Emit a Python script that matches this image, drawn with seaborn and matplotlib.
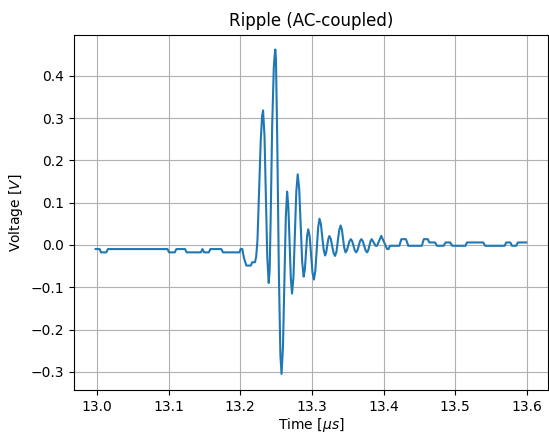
import matplotlib
matplotlib.use("Agg")
import matplotlib.pyplot as plt
import seaborn as sns
import pandas as pd

time_us = [
    12.998, 13.0037, 13.0055, 13.0129, 13.0152, 13.0983, 13.1006, 13.1085,
    13.1108, 13.1228, 13.1251, 13.1449, 13.1472, 13.1495, 13.1560, 13.1583,
    13.1735, 13.1758, 13.1989, 13.2005, 13.2028, 13.2050, 13.2085, 13.2148,
    13.2165, 13.2205, 13.2222, 13.2240, 13.2263, 13.2286, 13.2305, 13.2318,
    13.2338, 13.2358, 13.2377, 13.2397, 13.2410, 13.2424, 13.2445, 13.2468,
    13.2480, 13.2489, 13.2498, 13.2516, 13.2539, 13.2560, 13.2576, 13.2596,
    13.2615, 13.2635, 13.2654, 13.2671, 13.2689, 13.2706, 13.2723, 13.2743,
    13.2763, 13.2782, 13.2802, 13.2823, 13.2844, 13.2864, 13.2885, 13.2901,
    13.2917, 13.2933, 13.2949, 13.2969, 13.2989, 13.3008, 13.3028, 13.3048,
    13.3067, 13.3087, 13.3106, 13.3126, 13.3145, 13.3165, 13.3184, 13.3199,
    13.3214, 13.3229, 13.3244, 13.3264, 13.3283, 13.3303, 13.3323, 13.3343,
    13.3362, 13.3382, 13.3401, 13.3418, 13.3435, 13.3453, 13.3470, 13.3488,
    13.3507, 13.3525, 13.3544, 13.3562, 13.3581, 13.3599, 13.3618, 13.3636,
    13.3654, 13.3672, 13.3690, 13.3710, 13.3730, 13.3750, 13.3770, 13.3786,
    13.3802, 13.3819, 13.3835, 13.3862, 13.3890, 13.3910, 13.3939, 13.3968,
    13.4010, 13.4050, 13.4070, 13.4090, 13.4221, 13.4249, 13.4313, 13.4346,
    13.4535, 13.4562, 13.4618, 13.4640, 13.4719, 13.4747, 13.4839, 13.4866,
    13.4931, 13.4959, 13.5143, 13.5166, 13.5392, 13.5419, 13.5691, 13.5714,
    13.5770, 13.5793, 13.5853, 13.5876, 13.5990,
]
voltage_v = [
    -0.0098, -0.0098, -0.0176, -0.0176, -0.0098, -0.0098, -0.0176, -0.0176,
    -0.0098, -0.0098, -0.0176, -0.0176, -0.0098, -0.0176, -0.0176, -0.0098,
    -0.0098, -0.0176, -0.0176, -0.0098, -0.0098, -0.030, -0.0488, -0.0488,
    -0.041, -0.041, -0.028, 0.011, 0.130, 0.249, 0.305, 0.318,
    0.258, 0.114, -0.030, -0.090, -0.060, 0.060, 0.280, 0.420,
    0.448, 0.462, 0.440, 0.248, -0.068, -0.260, -0.305, -0.242,
    -0.090, 0.063, 0.126, 0.091, 0.005, -0.080, -0.115, -0.074,
    0.026, 0.126, 0.167, 0.132, 0.046, -0.040, -0.075, -0.059,
    -0.019, 0.021, 0.037, 0.020, -0.022, -0.065, -0.082, -0.061,
    -0.010, 0.041, 0.062, 0.049, 0.018, -0.012, -0.025, -0.018,
    -0.002, 0.014, 0.021, 0.014, -0.003, -0.019, -0.026, -0.016,
    0.010, 0.035, 0.046, 0.037, 0.014, -0.008, -0.0176, -0.013,
    -0.002, 0.009, 0.0136, 0.009, -0.002, -0.013, -0.0176, -0.013,
    -0.002, 0.009, 0.0136, 0.009, -0.002, -0.013, -0.0176, -0.013,
    -0.002, 0.009, 0.0136, 0.006, -0.002, -0.002, 0.010, 0.0214,
    0.0058, -0.0098, -0.0098, -0.002, -0.002, 0.0136, 0.0136, -0.002,
    -0.002, 0.0136, 0.0136, 0.0058, 0.0058, -0.002, -0.002, 0.0058,
    0.0058, -0.002, -0.002, 0.0058, 0.0058, -0.002, -0.002, 0.0058,
    0.0058, -0.002, -0.002, 0.0058, 0.0058,
]

df = pd.DataFrame({"time": time_us, "voltage": voltage_v})

fig = plt.figure(figsize=(5.49, 4.34), dpi=100)
ax = fig.add_axes([0.135, 0.1014, 0.863, 0.8191])
sns.lineplot(data=df, x="time", y="voltage", ax=ax, estimator=None,
             sort=False, color="#1f77b4", linewidth=1.5)
ax.set_xlim(12.968, 13.6295)
ax.set_ylim(-0.343, 0.4975)
ax.set_xticks([13.0, 13.1, 13.2, 13.3, 13.4, 13.5, 13.6])
ax.set_yticks([-0.3, -0.2, -0.1, 0.0, 0.1, 0.2, 0.3, 0.4])
ax.grid(True, color="#b0b0b0", linewidth=0.8)
ax.set_axisbelow(True)
ax.set_title("Ripple (AC-coupled)", fontsize=12)
ax.set_xlabel(r"Time [$\mu s$]", fontsize=10, labelpad=1.5)
ax.set_ylabel(r"Voltage [$V$]", fontsize=10)
fig.savefig("out.png", dpi=100)
